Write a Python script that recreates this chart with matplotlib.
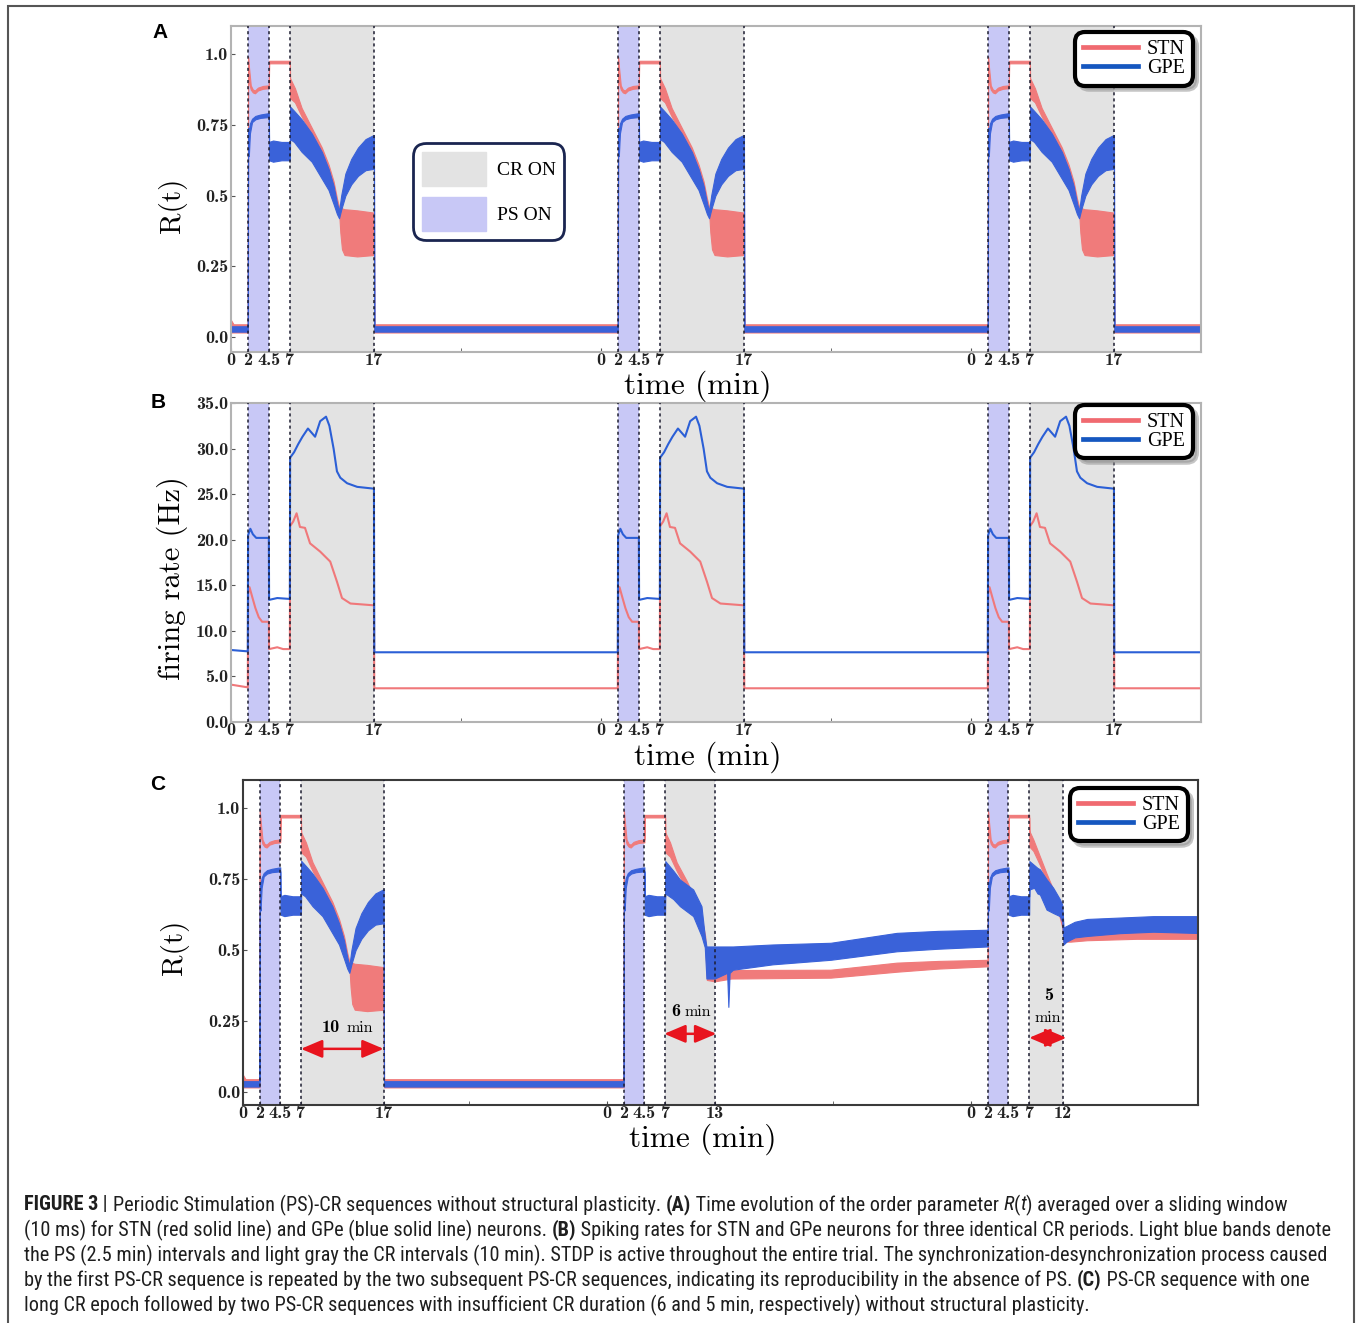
import matplotlib
matplotlib.use("Agg")
import matplotlib.pyplot as plt
from matplotlib import font_manager as fm
from matplotlib.font_manager import FontProperties
from matplotlib.patches import Patch, Rectangle
from matplotlib.lines import Line2D

plt.rcParams['axes.unicode_minus'] = False

# ---------------- data (minutes within a 44-min cycle) ----------------
CYCLE_MIN = 44.0
T_END = 115.35

# pre-stimulation (first cycle, 0-2 min), order parameter R(t)
PRE_T = [0.0, 0.3, 2.0]
PRE_STN_LO = [0.016, 0.016, 0.016]
PRE_STN_HI = [0.06, 0.045, 0.045]
PRE_GPE_LO = [0.019, 0.019, 0.019]
PRE_GPE_HI = [0.038, 0.038, 0.038]

# PS (2-4.5) and gap (4.5-7)
PS_T_STN = [2.03, 2.15, 2.35, 2.6, 2.85, 3.2, 3.8, 4.5, 4.53, 5.5, 7.0]
PS_STN_LO = [0.93, 0.90, 0.875, 0.865, 0.862, 0.872, 0.878, 0.880, 0.968, 0.968, 0.968]
PS_STN_HI = [0.99, 0.95, 0.89, 0.875, 0.872, 0.882, 0.888, 0.890, 0.977, 0.977, 0.977]
PS_T_GPE = [2.03, 2.12, 2.25, 2.5, 2.9, 3.5, 4.5, 4.53, 5.0, 6.0, 7.0]
PS_GPE_LO = [0.66, 0.64, 0.72, 0.76, 0.77, 0.775, 0.778, 0.625, 0.62, 0.625, 0.625]
PS_GPE_HI = [0.74, 0.73, 0.755, 0.772, 0.782, 0.787, 0.792, 0.69, 0.695, 0.69, 0.69]

# CR 7-17 (10 min) and rest
A_CR_T_STN = [7.03, 7.6, 8.4, 9.6, 10.8, 11.6, 12.2, 12.6, 12.85, 13.0, 13.2, 13.5, 15.0, 17.0, 17.04, 46.0]
A_CR_STN_LO = [0.845, 0.83, 0.78, 0.715, 0.645, 0.585, 0.525, 0.47, 0.445, 0.37, 0.31, 0.29, 0.285, 0.29, 0.016, 0.016]
A_CR_STN_HI = [0.915, 0.88, 0.81, 0.74, 0.67, 0.61, 0.55, 0.49, 0.46, 0.455, 0.455, 0.452, 0.448, 0.44, 0.045, 0.045]
A_CR_T_GPE = [7.03, 7.5, 8.4, 9.6, 10.8, 11.6, 12.2, 12.6, 12.85, 13.1, 13.6, 14.3, 15.1, 16.0, 17.0, 17.04, 46.0]
A_CR_GPE_LO = [0.70, 0.69, 0.655, 0.62, 0.56, 0.52, 0.47, 0.435, 0.42, 0.45, 0.50, 0.54, 0.57, 0.59, 0.595, 0.019, 0.019]
A_CR_GPE_HI = [0.815, 0.80, 0.77, 0.72, 0.655, 0.595, 0.535, 0.475, 0.445, 0.50, 0.578, 0.63, 0.67, 0.70, 0.715, 0.038, 0.038]

# panel C, second cycle: CR 7-13 (6 min)
C2_CR_T_STN = [7.03, 7.6, 8.4, 9.6, 10.8, 11.5, 11.85, 12.05, 13.0, 15.0, 27.0, 35.0, 40.0, 46.0]
C2_CR_STN_LO = [0.845, 0.83, 0.78, 0.715, 0.64, 0.575, 0.52, 0.395, 0.39, 0.40, 0.403, 0.424, 0.435, 0.443]
C2_CR_STN_HI = [0.915, 0.88, 0.81, 0.745, 0.67, 0.60, 0.55, 0.43, 0.43, 0.43, 0.431, 0.456, 0.462, 0.466]
C2_CR_T_GPE = [7.03, 8.0, 8.8, 10.4, 11.4, 11.8, 12.0, 13.0, 14.5, 14.65, 14.8, 15.2, 20.0, 27.0, 35.0, 40.0, 46.0]
C2_CR_GPE_LO = [0.70, 0.68, 0.655, 0.62, 0.55, 0.51, 0.40, 0.40, 0.42, 0.30, 0.42, 0.431, 0.45, 0.466, 0.496, 0.505, 0.513]
C2_CR_GPE_HI = [0.814, 0.78, 0.749, 0.714, 0.655, 0.55, 0.513, 0.513, 0.513, 0.513, 0.513, 0.513, 0.52, 0.526, 0.561, 0.568, 0.572]

# panel C, third cycle: CR 7-12 (5 min)
C3_CR_T_STN = [7.03, 7.5, 8.3, 9.1, 10.1, 10.7, 11.0, 11.15, 12.0, 14.0, 20.0, 28.0]
C3_CR_STN_LO = [0.865, 0.85, 0.80, 0.745, 0.675, 0.615, 0.58, 0.53, 0.53, 0.535, 0.54, 0.54]
C3_CR_STN_HI = [0.92, 0.89, 0.83, 0.77, 0.70, 0.64, 0.60, 0.56, 0.56, 0.56, 0.565, 0.565]
C3_CR_T_GPE = [7.03, 7.6, 8.0, 8.3, 9.1, 9.9, 10.7, 11.0, 11.15, 11.5, 12.5, 14.0, 18.0, 22.0, 28.0]
C3_CR_GPE_LO = [0.714, 0.72, 0.70, 0.696, 0.643, 0.631, 0.62, 0.60, 0.52, 0.53, 0.545, 0.55, 0.56, 0.565, 0.56]
C3_CR_GPE_HI = [0.814, 0.80, 0.79, 0.785, 0.75, 0.72, 0.68, 0.66, 0.58, 0.585, 0.60, 0.61, 0.615, 0.62, 0.62]

# panel B firing rates (Hz)
B_PRE_T = [0.0, 2.0]
B_PRE_STN = [4.1, 3.8]
B_PRE_GPE = [7.9, 7.75]
B_T_GPE = [2.03, 2.3, 2.6, 3.0, 4.5, 4.53, 5.5, 7.0, 7.03, 7.5, 8.0, 8.5, 9.15, 10.0, 10.6, 11.3, 11.7,
           12.2, 12.6, 13.0, 13.8, 15.0, 17.0, 17.04, 46.0]
B_GPE = [20.5, 21.2, 20.6, 20.2, 20.2, 13.4, 13.6, 13.5, 29.0, 29.6, 30.5, 31.3, 32.2, 31.3, 33.0, 33.5, 32.5,
         30.0, 27.5, 26.8, 26.2, 25.8, 25.6, 7.65, 7.65]
B_T_STN = [2.03, 2.2, 2.5, 2.9, 3.3, 3.7, 4.5, 4.53, 5.5, 6.2, 7.0, 7.03, 7.4, 7.8, 8.2, 8.8, 9.4, 10.6,
           11.8, 12.6, 13.2, 14.2, 17.0, 17.04, 46.0]
B_STN = [14.0, 14.8, 13.8, 12.5, 11.5, 11.0, 11.0, 8.0, 8.2, 8.0, 8.0, 21.5, 22.0, 22.9, 21.4, 21.3, 19.6, 18.7,
         17.6, 15.4, 13.6, 13.0, 12.8, 3.7, 3.7]

# stimulation epochs per cycle (min from cycle start)
PS_ON = (2.0, 4.5)
CR_START = 7.0
CR_END_AB = [17.0, 17.0, 17.0]
CR_END_C = [17.0, 13.0, 11.1]
CR_END_C_LABELS = ['17', '13', '12']
TICK_BASE = [0.0, 2.0, 4.5, 7.0]
TICK_BASE_LABELS = ['0', '2', '4.5', '7']
MINOR_TICKS = [27.3, 71.3]
R_TICKS = [0.0, 0.25, 0.5, 0.75, 1.0]
R_TICK_LABELS = ['0.0', '0.25', '0.5', '0.75', '1.0']
FR_TICKS = [0, 5, 10, 15, 20, 25, 30, 35]
FR_TICK_LABELS = ['0.0', '5.0', '10.0', '15.0', '20.0', '25.0', '30.0', '35.0']
ARROWS_C = [(7.0, 17.0, 0.152), (44 + 6.9, 44 + 13.2, 0.205), (88 + 7.0, 88 + 11.5, 0.191)]

# ---------------- style ----------------
C_STN = '#f07b7b'
C_GPE = '#3a62d9'
C_STN_LEG = '#f06a70'
C_GPE_LEG = '#1557c0'
C_PS = '#c8c8f6'
C_CR = '#e3e3e3'
TICK_FS = 13

W, H = 1360, 1323
fig = plt.figure(figsize=(W / 100, H / 100), dpi=100)


def px_axes(l, t, r, b):
    return fig.add_axes([l / W, 1 - b / H, (r - l) / W, (b - t) / H])


axA = px_axes(231, 26, 1201, 352)
axB = px_axes(231, 403, 1201, 722)
axC = px_axes(243, 780, 1198, 1105)


def concat(pre, cycles):
    out = [list(p) for p in pre]
    for k, cyc in enumerate(cycles):
        t = cyc[0]
        out[0] += [x + CYCLE_MIN * k for x in t]
        for i in range(1, len(cyc)):
            out[i] += list(cyc[i])
    return out


def band(ax, series, color):
    t, lo, hi = series
    ax.fill_between(t, lo, hi, color=color, edgecolor=color, lw=0.8, zorder=2)


def epochs(ax, cr_ends):
    for k, ce in enumerate(cr_ends):
        o = CYCLE_MIN * k
        ax.axvspan(o + PS_ON[0], o + PS_ON[1], color=C_PS, lw=0, zorder=0)
        ax.axvspan(o + CR_START, o + ce, color=C_CR, lw=0, zorder=0)
        for x in (PS_ON[0], PS_ON[1], CR_START, ce):
            ax.axvline(o + x, color='#1c1c30', lw=1.1, ls=(0, (2, 2)), zorder=3)


def style(ax, spine_color, end_labels, cr_ends, ylim, yt, ytl, xlim):
    ax.set_xlim(*xlim)
    ax.set_ylim(*ylim)
    pos, lab = [], []
    for k in range(3):
        pos += [CYCLE_MIN * k + v for v in TICK_BASE] + [CYCLE_MIN * k + cr_ends[k]]
        lab += TICK_BASE_LABELS + [end_labels[k]]
    ax.set_xticks(pos)
    ax.set_xticklabels(lab, fontfamily='cmb10', fontsize=TICK_FS)
    ax.set_xticks(MINOR_TICKS, minor=True)
    ax.set_yticks(yt)
    ax.set_yticklabels(ytl, fontfamily='cmb10', fontsize=TICK_FS)
    ax.tick_params(which='both', direction='in', length=3, pad=2.0, color='#555', labelcolor='#222')
    ax.tick_params(axis='x', pad=1.0)
    for s in ax.spines.values():
        s.set_color(spine_color)
        s.set_linewidth(1.5)


def std_legend(ax, anchor):
    h = [Line2D([], [], color=C_STN_LEG, lw=3.4), Line2D([], [], color=C_GPE_LEG, lw=3.4)]
    leg = ax.legend(h, ['STN', 'GPE'], loc='upper left', bbox_to_anchor=anchor, borderaxespad=0,
                    prop=FontProperties(family='Liberation Serif', size=14.5), handlelength=2.75,
                    handletextpad=0.45, labelspacing=0.0, borderpad=0.38, fancybox=True,
                    shadow={'ox': 3, 'oy': -3, 'color': '0.55', 'alpha': 0.5}, framealpha=1,
                    edgecolor='black')
    leg.get_frame().set_linewidth(3)
    leg.get_frame().set_boxstyle('round', pad=0, rounding_size=0.5)
    leg.set_zorder(10)
    return leg


# ---- panel A ----
cycA_stn = [(PS_T_STN + A_CR_T_STN, PS_STN_LO + A_CR_STN_LO, PS_STN_HI + A_CR_STN_HI)] * 3
cycA_gpe = [(PS_T_GPE + A_CR_T_GPE, PS_GPE_LO + A_CR_GPE_LO, PS_GPE_HI + A_CR_GPE_HI)] * 3
epochs(axA, CR_END_AB)
band(axA, concat((PRE_T, PRE_STN_LO, PRE_STN_HI), cycA_stn), C_STN)
band(axA, concat((PRE_T, PRE_GPE_LO, PRE_GPE_HI), cycA_gpe), C_GPE)
style(axA, '#b3b3b3', ['17', '17', '17'], CR_END_AB, (-0.053, 1.10), R_TICKS, R_TICK_LABELS, (0, T_END))
legA = std_legend(axA, ((1075 - 231) / 970, (352 - 32) / 326))
axA.add_artist(legA)
leg2 = axA.legend([Patch(color=C_CR), Patch(color=C_PS)], ['CR ON', 'PS ON'], loc='upper left',
                  bbox_to_anchor=((413 - 231) / 970, (352 - 143) / 326), borderaxespad=0,
                  prop=FontProperties(family='Liberation Serif', size=14), handlelength=3.3,
                  handleheight=2.3, labelspacing=0.6, handletextpad=0.55, borderpad=0.45,
                  fancybox=True, framealpha=1, edgecolor='#1a2550')
leg2.get_frame().set_linewidth(2)
leg2.get_frame().set_boxstyle('round', pad=0, rounding_size=0.65)

# ---- panel B ----
epochs(axB, CR_END_AB)
tb_s, vb_s = concat((B_PRE_T, B_PRE_STN), [(B_T_STN, B_STN)] * 3)
tb_g, vb_g = concat((B_PRE_T, B_PRE_GPE), [(B_T_GPE, B_GPE)] * 3)
axB.plot(tb_s, vb_s, color='#f0787a', lw=1.5, zorder=2)
axB.plot(tb_g, vb_g, color='#2b5fd6', lw=1.5, zorder=2)
style(axB, '#b3b3b3', ['17', '17', '17'], CR_END_AB, (0, 35), FR_TICKS, FR_TICK_LABELS, (0, T_END))
std_legend(axB, ((1075 - 231) / 970, (722 - 405) / 319))

# ---- panel C ----
cycC_stn = [(PS_T_STN + A_CR_T_STN, PS_STN_LO + A_CR_STN_LO, PS_STN_HI + A_CR_STN_HI),
            (PS_T_STN + C2_CR_T_STN, PS_STN_LO + C2_CR_STN_LO, PS_STN_HI + C2_CR_STN_HI),
            (PS_T_STN + C3_CR_T_STN, PS_STN_LO + C3_CR_STN_LO, PS_STN_HI + C3_CR_STN_HI)]
cycC_gpe = [(PS_T_GPE + A_CR_T_GPE, PS_GPE_LO + A_CR_GPE_LO, PS_GPE_HI + A_CR_GPE_HI),
            (PS_T_GPE + C2_CR_T_GPE, PS_GPE_LO + C2_CR_GPE_LO, PS_GPE_HI + C2_CR_GPE_HI),
            (PS_T_GPE + C3_CR_T_GPE, PS_GPE_LO + C3_CR_GPE_LO, PS_GPE_HI + C3_CR_GPE_HI)]
epochs(axC, CR_END_C)
band(axC, concat((PRE_T, PRE_STN_LO, PRE_STN_HI), cycC_stn), C_STN)
band(axC, concat((PRE_T, PRE_GPE_LO, PRE_GPE_HI), cycC_gpe), C_GPE)
style(axC, '#3a3a3a', CR_END_C_LABELS, CR_END_C, (-0.046, 1.10), R_TICKS, R_TICK_LABELS, (0, 115.4))
std_legend(axC, ((1070 - 243) / 955, (1105 - 788) / 325))
for x0, x1, y in ARROWS_C:
    axC.annotate('', xy=(x1, y), xytext=(x0, y),
                 arrowprops=dict(arrowstyle='<|-|>,head_length=1.3,head_width=0.55', color='#e8141e',
                                 lw=1.8, mutation_scale=10, shrinkA=0, shrinkB=0), zorder=5)
axC.text(11.72, 0.226, '10', family='cmb10', fontsize=13, ha='right', va='center', zorder=5)
axC.text(12.45, 0.226, 'min', family='cmr10', fontsize=11.5, ha='left', va='center', zorder=5)
axC.text(52.82, 0.283, '6', family='cmb10', fontsize=13, ha='right', va='center', zorder=5)
axC.text(53.31, 0.283, 'min', family='cmr10', fontsize=11.5, ha='left', va='center', zorder=5)
axC.text(97.3, 0.339, '5', family='cmb10', fontsize=13, ha='center', va='center', zorder=5)
axC.text(97.3, 0.262, 'min', family='cmr10', fontsize=11.5, ha='center', va='center', zorder=5)

# ---- axis labels & panel letters ----
def ftext(x, y, s, **kw):
    fig.text(x / W, 1 - y / H, s, **kw)


ftext(698, 386, 'time (min)', family='cmr10', fontsize=22.5, ha='center', va='center')
ftext(708, 757, 'time (min)', family='cmr10', fontsize=22.5, ha='center', va='center')
ftext(703, 1139, 'time (min)', family='cmr10', fontsize=22.5, ha='center', va='center')
ftext(172, 205, 'R(t)', family='cmr10', fontsize=21, rotation=90, ha='center', va='center')
ftext(172, 578, 'firing rate (Hz)', family='cmr10', fontsize=22, rotation=90, ha='center', va='center')
ftext(174, 947, 'R(t)', family='cmr10', fontsize=21, rotation=90, ha='center', va='center')
for lab, (x, y) in zip('ABC', [(160, 33), (158, 403), (158, 784)]):
    ftext(x, y, lab, family='Liberation Sans', weight='bold', fontsize=15, ha='center', va='center')

# ---- outer frame ----
fig.add_artist(Rectangle((8 / W, -0.01), (1354 - 8) / W, 1 - 6 / H + 0.01, transform=fig.transFigure,
                         fill=False, ec='#555555', lw=1.5))

# ---- caption ----
names = {f.name for f in fm.fontManager.ttflist}
cap_family, cap_stretch = 'Liberation Sans', 'normal'
for cand in ['Liberation Sans Narrow', 'Roboto Condensed', 'Open Sans Condensed', 'Arial Narrow']:
    if cand in names:
        cap_family = cand
        break
else:
    if any(f.name == 'DejaVu Sans' and 'Condensed' in f.fname for f in fm.fontManager.ttflist):
        cap_family, cap_stretch = 'DejaVu Sans', 'condensed'

CAPTION = [
    [('FIGURE 3', 'b'), (' | ', 'n'), ('Periodic Stimulation (PS)-CR sequences without structural plasticity. ', 'n'),
     ('(A)', 'b'), (' Time evolution of the order parameter ', 'n'), ('R', 'i'), ('(', 'n'), ('t', 'i'),
     (') averaged over a sliding window', 'n')],
    [('(10 ms) for STN (red solid line) and GPe (blue solid line) neurons. ', 'n'), ('(B)', 'b'),
     (' Spiking rates for STN and GPe neurons for three identical CR periods. Light blue bands denote', 'n')],
    [('the PS (2.5 min) intervals and light gray the CR intervals (10 min). STDP is active throughout the entire '
      'trial. The synchronization-desynchronization process caused', 'n')],
    [('by the first PS-CR sequence is repeated by the two subsequent PS-CR sequences, indicating its '
      'reproducibility in the absence of PS. ', 'n'), ('(C)', 'b'), (' PS-CR sequence with one', 'n')],
    [('long CR epoch followed by two PS-CR sequences with insufficient CR duration (6 and 5 min, respectively) '
      'without structural plasticity.', 'n')],
]
CAP_Y = [1205, 1230, 1255, 1280, 1305]
CAP_RIGHT = [1298, 1334, 1325, 1338, 1093]

R = fig.canvas.get_renderer()


def cprop(st, fs):
    return FontProperties(family=cap_family, stretch=cap_stretch, size=fs,
                          weight='bold' if st == 'b' else 'normal',
                          style='italic' if st == 'i' else 'normal')


def tw(s, prop):
    a = R.get_text_width_height_descent('|' + s + '|', prop, ismath=False)[0]
    b = R.get_text_width_height_descent('||', prop, ismath=False)[0]
    return a - b


def line_w(runs, fs):
    return sum(tw(s, cprop(st, fs)) for s, st in runs)


fs0 = 12.0
cap_fs = min(fs0 * (r - 24) / line_w(runs, fs0) for runs, r in zip(CAPTION, CAP_RIGHT))
for runs, y in zip(CAPTION, CAP_Y):
    x = 24
    for s, st in runs:
        p = cprop(st, cap_fs)
        fig.text(x / W, 1 - y / H, s, fontproperties=p, ha='left', va='center', color='#1e1e1e')
        x += tw(s, p)

fig.savefig('out.png', dpi=100)
